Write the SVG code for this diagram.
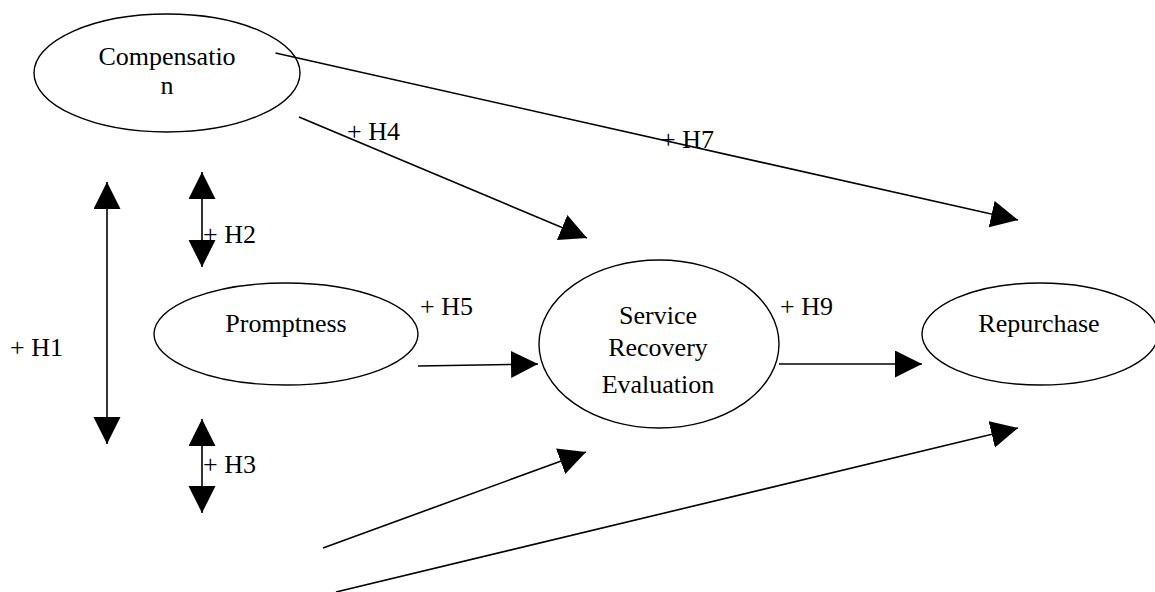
<svg xmlns="http://www.w3.org/2000/svg" width="1155" height="592" viewBox="0 0 1155 592">
<style>
.node{fill:#fff;stroke:#000;stroke-width:1.4}
.t{font-family:"Liberation Serif","Times New Roman",serif;font-size:26px;fill:#000}
.c{text-anchor:middle}
.ln{stroke:#000;fill:none;stroke-width:1.6}
</style>
<defs>
<marker id="ah" markerUnits="userSpaceOnUse" markerWidth="28" markerHeight="28" viewBox="0 0 28 28" refX="27" refY="13.5" orient="auto-start-reverse">
<path d="M0,0 L27,13.5 L0,27 z" fill="#000"/>
</marker>
</defs>
<rect width="1155" height="592" fill="#fff"/>
<g id="compensation">
<ellipse class="node" cx="167" cy="73" rx="133" ry="59"/>
<text class="t c" x="167" y="65">Compensatio</text>
<text class="t c" x="167" y="94">n</text>
</g>
<g id="promptness">
<ellipse class="node" cx="286" cy="334" rx="132" ry="51"/>
<text class="t c" x="286" y="332">Promptness</text>
</g>
<g id="service-recovery-evaluation">
<ellipse class="node" cx="659" cy="344" rx="120" ry="84"/>
<text class="t c" x="658" y="324">Service</text>
<text class="t c" x="658" y="356">Recovery</text>
<text class="t c" x="658" y="393">Evaluation</text>
</g>
<g id="repurchase">
<ellipse class="node" cx="1040" cy="334" rx="118" ry="51"/>
<text class="t c" x="1039" y="332">Repurchase</text>
</g>
<g id="connectors">
<line class="ln" x1="275.5" y1="53" x2="1018" y2="220" marker-end="url(#ah)"/>
<line class="ln" x1="299" y1="117" x2="587" y2="238" marker-end="url(#ah)"/>
<line class="ln" x1="107" y1="182" x2="107" y2="444" stroke-width="2" marker-start="url(#ah)" marker-end="url(#ah)"/>
<line class="ln" x1="202" y1="172" x2="202" y2="267" stroke-width="2" marker-start="url(#ah)" marker-end="url(#ah)"/>
<line class="ln" x1="202" y1="419" x2="202" y2="513" stroke-width="2" marker-start="url(#ah)" marker-end="url(#ah)"/>
<line class="ln" x1="418" y1="366" x2="538" y2="364" stroke-width="2" marker-end="url(#ah)"/>
<line class="ln" x1="779" y1="364" x2="922" y2="364" stroke-width="3" marker-end="url(#ah)"/>
<line class="ln" x1="323" y1="548" x2="586" y2="452" marker-end="url(#ah)"/>
<line class="ln" x1="336" y1="592" x2="1018" y2="428" marker-end="url(#ah)"/>
</g>
<g id="labels">
<text class="t" x="347" y="140">+ H4</text>
<text class="t" x="661" y="148">+ H7</text>
<text class="t" x="203" y="243">+ H2</text>
<text class="t" x="10" y="356">+ H1</text>
<text class="t" x="203" y="473">+ H3</text>
<text class="t" x="420" y="315">+ H5</text>
<text class="t" x="780" y="315">+ H9</text>
</g>
</svg>
